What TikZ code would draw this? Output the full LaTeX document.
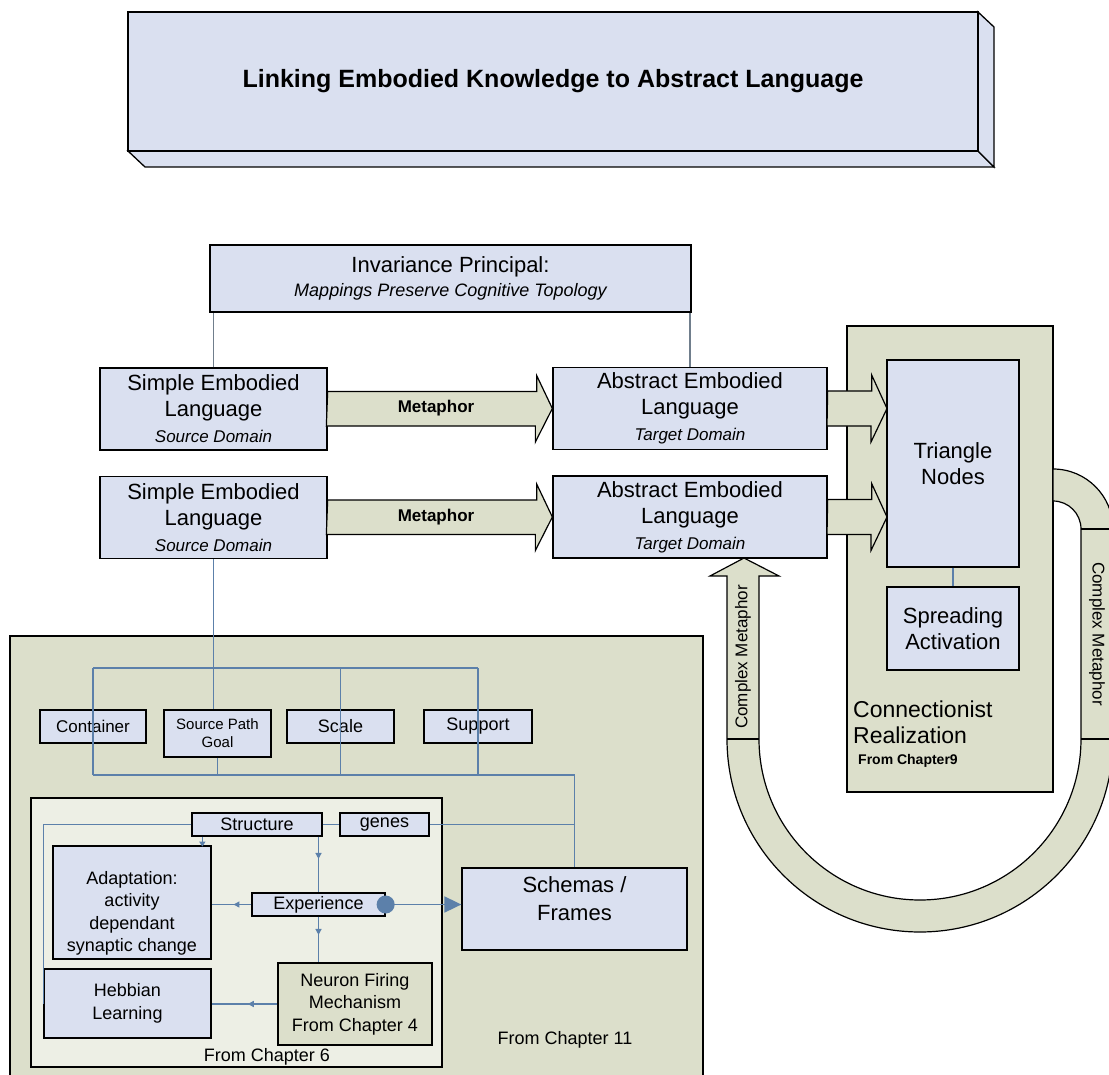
\documentclass[tikz,border=0pt]{standalone}
\usepackage{fontspec}
\setmainfont{Liberation Sans}
\usetikzlibrary{arrows.meta,decorations.markings}

\definecolor{boxblue}{RGB}{218,224,240}
\definecolor{sage}{RGB}{220,223,203}
\definecolor{palesage}{RGB}{237,239,229}
\definecolor{wireblue}{RGB}{92,128,170}
\definecolor{wiregray}{RGB}{112,126,140}

\tikzset{
  box/.style={draw=black, fill=boxblue, line width=1.3pt, inner sep=0pt, align=center},
  sagebox/.style={draw=black, fill=sage, line width=1.3pt, inner sep=0pt, align=center},
  bigtxt/.style={font=\fontsize{22}{26}\selectfont},
  midtxt/.style={font=\fontsize{18}{22.5}\selectfont},
  link/.style={draw=wireblue, line width=1.4pt},
  grayline/.style={draw=wiregray, line width=1.3pt},
  midarrow/.style={postaction={decorate, decoration={markings,
      mark=at position #1 with {\arrow[wireblue]{Triangle[length=6pt,width=6pt]}}}}},
  midarrow/.default=0.5,
  fatarrow/.style={draw=black, fill=sage, line width=1.2pt, line join=miter},
}

\begin{document}
\begin{tikzpicture}[x=1pt, y=-1pt]
  \useasboundingbox (0,0) rectangle (1109,1075);
  % TITLE
  \filldraw[box] (128,151) -- (978,151) -- (994,167) -- (145,167) -- cycle;
  \filldraw[box] (978,12) -- (994,27) -- (994,167) -- (978,151) -- cycle;
  \node[box, minimum width=850pt, minimum height=139pt, font=\bfseries\fontsize{25}{30}\selectfont] (title) at (553,81.5) {Linking Embodied Knowledge to Abstract Language};

  % UPPER LAYER
  \node[box, minimum width=481pt, minimum height=67pt, font=\fontsize{22}{24}\selectfont] (invar) at (450.5,278.5)
    {Invariance Principal:\\{\itshape\fontsize{18}{24}\selectfont Mappings Preserve Cognitive Topology}};
  \node[box, minimum width=227pt, minimum height=82pt, bigtxt] (simpleA) at (213.5,409)
    {Simple Embodied\\Language\\{\itshape\fontsize{17}{26}\selectfont Source Domain}};
  \node[box, minimum width=227pt, minimum height=82pt, bigtxt] (simpleB) at (213.5,517.5)
    {Simple Embodied\\Language\\{\itshape\fontsize{17}{26}\selectfont Source Domain}};
  \node[box, minimum width=274pt, minimum height=82pt, bigtxt] (abstrA) at (690,408.5)
    {Abstract Embodied\\Language\\{\itshape\fontsize{17}{26}\selectfont Target Domain}};
  \node[box, minimum width=274pt, minimum height=82pt, bigtxt] (abstrB) at (690,517)
    {Abstract Embodied\\Language\\{\itshape\fontsize{17}{26}\selectfont Target Domain}};
  \draw[grayline] (simpleA.north) -- (simpleA.north |- invar.south);
  \draw[grayline] (abstrA.north) -- (abstrA.north |- invar.south);

  % METAPHOR ARROWS
  \draw[fatarrow] (simpleA.east) ++(0,-17.5) -- ++(209,0) -- ++(0,-16) -- (abstrA.west) -- ++(-17,33.5) -- ++(0,-16) -- ++(-209,0) -- cycle;
  \draw[fatarrow] (simpleB.east) ++(0,-17.5) -- ++(209,0) -- ++(0,-16) -- (abstrB.west) -- ++(-17,33.5) -- ++(0,-16) -- ++(-209,0) -- cycle;
  \node[font=\bfseries\fontsize{17}{20}\selectfont] (metA) at (436,408.5) {Metaphor};
  \node[font=\bfseries\fontsize{17}{20}\selectfont] (metB) at (436,517) {Metaphor};

  % CONNECTIONIST REALIZATION
  \node[sagebox, minimum width=206pt, minimum height=466pt] (conn) at (950,559) {};
  \draw[fatarrow] (abstrA.east) ++(0,-17.5) -- ++(44,0) -- ++(0,-16) -- (887,408.5) -- ++(-16,33.5) -- ++(0,-16) -- ++(-44,0) -- cycle;
  \draw[fatarrow] (abstrB.east) ++(0,-17.5) -- ++(44,0) -- ++(0,-16) -- (887,517) -- ++(-16,33.5) -- ++(0,-16) -- ++(-44,0) -- cycle;
  \node[box, minimum width=132pt, minimum height=207pt, bigtxt] (tri) at (953,463.5) {Triangle\\Nodes};
  \node[box, minimum width=132pt, minimum height=83pt, bigtxt] (spread) at (953,628.5) {Spreading\\Activation};
  \draw[link] (tri.south) -- (spread.north);
  \node[anchor=north west, align=left, inner sep=0pt, font=\fontsize{23}{26}\selectfont] (conntext) at (853,701)
    {Connectionist\\Realization\\[-5pt]\hspace*{5pt}{\bfseries\fontsize{14}{16}\selectfont From Chapter9}};

  % COMPLEX METAPHOR LOOP
  \filldraw[fatarrow] (1053,469) arc[start angle=-90, end angle=0, radius=60] -- (1113,739)
    arc[start angle=0, end angle=180, radius=193] -- (727,576) -- (710,576) -- (744,558) -- (779,576) -- (759,576) -- (759,739)
    arc[start angle=180, end angle=0, radius=161] -- (1081,529) arc[start angle=0, end angle=-90, radius=28] -- cycle;
  \draw[line width=1.2pt] (727,739) -- (759,739);
  \draw[line width=1.2pt] (1081,739) -- (1113,739);
  \draw[line width=1.2pt] (1081,529) -- (1113,529);
  \node[rotate=90, font=\fontsize{17}{20}\selectfont] (cmL) at (743,657) {Complex Metaphor};
  \node[rotate=-90, font=\fontsize{17}{20}\selectfont] (cmR) at (1097,634) {Complex Metaphor};

  % CHAPTER 11 AND CHAPTER 6 PANELS
  \node[sagebox, minimum width=693pt, minimum height=449pt] (chElev) at (356.5,860.5) {};
  \node[draw=black, fill=palesage, line width=1.3pt, minimum width=411pt, minimum height=269pt] (chSix) at (236.5,932.5) {};
  \node[midtxt] (chElevTxt) at (565,1040) {From Chapter 11};
  \node[midtxt] (chSixTxt) at (267,1057) {From Chapter 6};

  % IMAGE SCHEMAS
  \node[box, minimum width=106pt, minimum height=33pt, font=\fontsize{17}{20}\selectfont] (container) at (93,726.5) {Container};
  \node[box, minimum width=107pt, minimum height=47pt, font=\fontsize{15}{18}\selectfont] (spg) at (217.5,733.5) {Source Path\\Goal};
  \node[box, minimum width=107pt, minimum height=33pt, font=\fontsize{18}{20}\selectfont] (scale) at (340.5,726.5) {Scale};
  \node[box, minimum width=108pt, minimum height=33pt, font=\fontsize{18}{20}\selectfont] (support) at (478,726.5) {Support};
  \node[box, minimum width=225pt, minimum height=82pt,
    label={[bigtxt, align=center, anchor=north, yshift=-6pt, font=\fontsize{22}{28}\selectfont]north:{Schemas /\\Frames}}] (schemas) at (574.5,909) {};

  % NEURAL LEVEL
  \node[box, minimum width=130pt, minimum height=23pt, midtxt] (structure) at (257,824.5) {Structure};
  \node[box, minimum width=89pt, minimum height=23pt, midtxt] (genes) at (384.5,824.5) {genes};
  \node[box, minimum width=158pt, minimum height=113pt,
    label={[midtxt, align=center, yshift=-11pt]center:{Adaptation:\\activity\\dependant\\synaptic change}}] (adapt) at (132,902.5) {};
  \node[box, minimum width=133pt, minimum height=23pt, midtxt] (experience) at (318.5,904.5) {Experience};
  \node[box, minimum width=167pt, minimum height=69pt, midtxt] (hebbian) at (127.5,1003.5) {Hebbian\\Learning};
  \node[sagebox, minimum width=154pt, minimum height=82pt, midtxt] (neuron) at (355,1004) {Neuron Firing\\Mechanism\\From Chapter 4};

  % WIRES
  \coordinate (busT) at (0,668);
  \coordinate (busB) at (0,775);
  \draw[link] (simpleB.south) -- (simpleB.south |- spg.north);
  \draw[link] (container.center |- busT) -- (support.center |- busT);
  \draw[link] (container.center |- busT) -- (container.center |- busB);
  \draw[link] (scale.center |- busT) -- (scale.center |- busB);
  \draw[link] (support.center |- busT) -- (support.center |- busB);
  \draw[link] (spg.south) -- (spg.south |- busB);
  \draw[link] (container.center |- busB) -- (schemas.north |- busB) -- (schemas.north);
  \draw[link] (structure.east) -- (genes.west);
  \draw[link] (genes.east) -- (genes.east -| schemas.north);
  \draw[link] (structure.west) -| (hebbian.west);
  \draw[link, -{Triangle[length=5pt,width=6pt]}] (structure.south west) ++(11,0) -- ++(0,10);
  \draw[link, midarrow=0.4] (structure.south -| experience.north) -- (experience.north);
  \draw[link, midarrow=0.4] (experience.south) -- (experience.south |- neuron.north);
  \draw[link, midarrow=0.45] (experience.west) -- (experience.west -| adapt.east);
  \draw[link, midarrow=0.45] (neuron.west) -- (neuron.west -| hebbian.east);
  \draw[link, line width=1.8pt, shorten <=-9pt, {Circle[length=18pt]}-{Triangle[length=17pt,width=16pt]}] (experience.east) -- (experience.east -| schemas.west);
\end{tikzpicture}
\end{document}
